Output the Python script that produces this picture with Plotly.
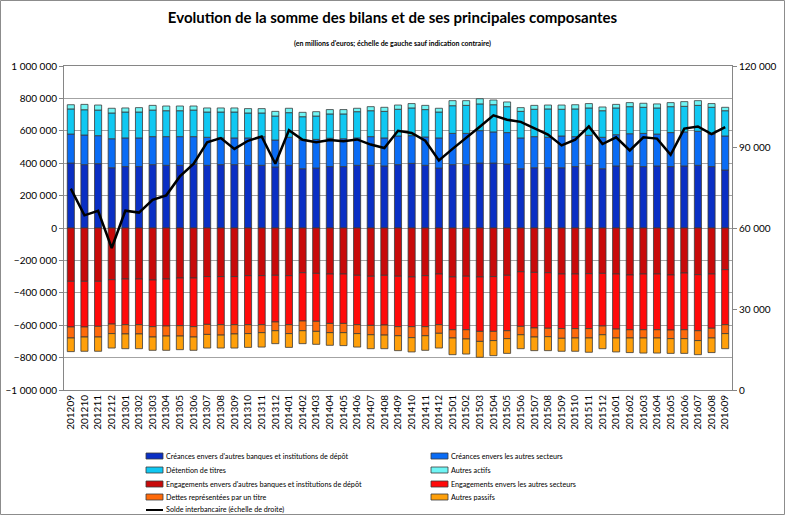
import plotly.graph_objects as go

mois = ["201209", "201210", "201211", "201212", "201301", "201302", "201303", "201304",
        "201305", "201306", "201307", "201308", "201309", "201310", "201311", "201312",
        "201401", "201402", "201403", "201404", "201405", "201406", "201407", "201408",
        "201409", "201410", "201411", "201412", "201501", "201502", "201503", "201504",
        "201505", "201506", "201507", "201508", "201509", "201510", "201511", "201512",
        "201601", "201602", "201603", "201604", "201605", "201606", "201607", "201608",
        "201609"]

creances_banques = [401000, 391000, 397000, 372000, 379000, 379000, 391000, 387000, 387000, 393000,
                    387000, 391000, 391000, 387000, 387000, 377000, 387000, 366000, 370000, 379000,
                    379000, 387000, 387000, 383000, 391000, 399000, 387000, 370000, 391000, 391000,
                    401000, 401000, 395000, 366000, 372000, 372000, 372000, 379000, 387000, 366000,
                    383000, 383000, 379000, 383000, 379000, 383000, 387000, 379000, 358000]
creances_secteurs = [179000, 183000, 173000, 179000, 177000, 177000, 173000, 177000, 177000, 171000,
                     173000, 165000, 165000, 169000, 177000, 166000, 173000, 177000, 177000, 175000,
                     172000, 169000, 177000, 173000, 177000, 171000, 175000, 186000, 193000, 193000,
                     200000, 192000, 194000, 190000, 192000, 188000, 196000, 185000, 185000, 194000,
                     193000, 199000, 205000, 197000, 210000, 210000, 210000, 201000, 210000]
detention_titres = [155000, 156000, 158000, 159000, 160000, 160000, 164000, 160000, 160000, 164000,
                    156000, 160000, 160000, 154000, 146000, 148000, 152000, 144000, 144000, 150000,
                    153000, 162000, 160000, 164000, 165000, 171000, 169000, 160000, 171000, 173000,
                    165000, 168000, 160000, 164000, 169000, 175000, 165000, 171000, 169000, 164000,
                    165000, 167000, 161000, 161000, 160000, 158000, 160000, 165000, 156000]
autres_actifs = [26000, 33000, 31000, 29000, 25000, 27000, 29000, 29000, 29000, 25000,
                 25000, 25000, 25000, 27000, 27000, 29000, 27000, 27000, 27000, 27000,
                 27000, 21000, 25000, 25000, 26000, 27000, 26000, 23000, 31000, 29000,
                 32000, 29000, 29000, 23000, 24000, 24000, 26000, 26000, 27000, 23000,
                 22000, 25000, 25000, 25000, 25000, 29000, 29000, 23000, 21000]
engagements_banques = [-329000, -329000, -329000, -319000, -315000, -315000, -321000, -315000, -309000, -309000,
                       -300000, -300000, -300000, -294000, -294000, -292000, -294000, -276000, -280000, -284000,
                       -284000, -292000, -298000, -292000, -298000, -302000, -294000, -284000, -302000, -298000,
                       -302000, -300000, -292000, -270000, -274000, -276000, -284000, -284000, -282000, -280000,
                       -284000, -290000, -284000, -284000, -290000, -278000, -288000, -284000, -257000]
engagements_secteurs = [-282000, -282000, -278000, -274000, -282000, -282000, -288000, -290000, -294000, -300000,
                        -295000, -297000, -297000, -303000, -303000, -288000, -303000, -298000, -296000, -305000,
                        -305000, -305000, -303000, -307000, -311000, -307000, -315000, -313000, -326000, -330000,
                        -336000, -338000, -342000, -337000, -343000, -343000, -337000, -337000, -339000, -325000,
                        -340000, -338000, -344000, -344000, -340000, -350000, -346000, -335000, -340000]
dettes_titre = [-68000, -62000, -66000, -59000, -57000, -57000, -64000, -62000, -64000, -64000,
                -62000, -64000, -57000, -55000, -49000, -54000, -55000, -60000, -62000, -57000,
                -57000, -55000, -58000, -62000, -56000, -68000, -56000, -53000, -51000, -57000,
                -62000, -57000, -49000, -52000, -56000, -52000, -60000, -58000, -58000, -54000,
                -55000, -51000, -51000, -51000, -53000, -55000, -61000, -60000, -55000]
autres_passifs = [-84000, -88000, -88000, -89000, -91000, -91000, -82000, -88000, -84000, -82000,
                  -84000, -80000, -87000, -85000, -89000, -80000, -85000, -80000, -80000, -78000,
                  -80000, -83000, -86000, -84000, -92000, -88000, -90000, -91000, -103000, -93000,
                  -98000, -93000, -91000, -86000, -84000, -86000, -80000, -82000, -88000, -86000,
                  -86000, -90000, -93000, -93000, -91000, -91000, -87000, -90000, -93000]
solde_interbancaire = [74600, 64700, 66400, 52600, 66400, 65700, 70400, 72100, 79100, 83700,
                       91700, 93300, 89300, 92300, 93900, 83800, 96200, 92700, 91800, 92600,
                       92100, 92800, 90900, 89600, 96000, 95200, 92300, 85000, 89300, 93300,
                       97500, 101700, 100100, 99300, 97000, 94600, 90600, 92700, 97600, 91100,
                       93600, 88700, 93600, 93100, 87100, 96800, 97600, 94800, 97400]

noms = ["Créances envers d'autres banques et institutions de dépôt",
        "Créances envers les autres secteurs",
        "Détention de titres",
        "Autres actifs",
        "Engagements envers d'autres banques et institutions de dépôt",
        "Engagements envers les autres secteurs",
        "Dettes représentées par un titre",
        "Autres passifs"]
nom_ligne = "Solde interbancaire (échelle de droite)"
couleurs = ["#0A2FC4", "#0A6CF5", "#10C8F2", "#6FF5F5",
            "#C80A0A", "#FF0A0A", "#FF6A0A", "#FFA00A"]
series = [creances_banques, creances_secteurs, detention_titres, autres_actifs,
          engagements_banques, engagements_secteurs, dettes_titre, autres_passifs]

fig = go.Figure()
for nom, vals, col in zip(noms, series, couleurs):
    fig.add_trace(go.Bar(x=mois, y=vals, name=nom, showlegend=False,
                         marker=dict(color=col, line=dict(color="#3a3a3a", width=0.8))))
fig.add_trace(go.Scatter(x=mois, y=solde_interbancaire, name=nom_ligne, yaxis="y2",
                         mode="lines", showlegend=False,
                         line=dict(color="black", width=2.5)))

L, R, T, B = 64, 732, 66, 390
W, H = R - L, B - T


def xp(px):
    return (px - L) / W


def yp(py):
    return (B - py) / H


shapes = []
annotations = []
# manual legend (two columns)
rows = [456, 470, 484, 497, 510]
left_items = [(noms[0], couleurs[0]), (noms[2], couleurs[2]), (noms[4], couleurs[4]), (noms[6], couleurs[6])]
right_items = [(noms[1], couleurs[1]), (noms[3], couleurs[3]), (noms[5], couleurs[5]), (noms[7], couleurs[7])]
for items, sx in ((left_items, 146), (right_items, 431)):
    for (nom, col), ry in zip(items, rows):
        shapes.append(dict(type="rect", xref="paper", yref="paper",
                           x0=xp(sx), x1=xp(sx + 17), y0=yp(ry + 3), y1=yp(ry - 3),
                           fillcolor=col, line=dict(color="#3a3a3a", width=0.8)))
        annotations.append(dict(text=nom, xref="paper", yref="paper", x=xp(sx + 18), y=yp(ry),
                                xanchor="left", yanchor="middle", showarrow=False,
                                font=dict(size=7.2, color="black")))
shapes.append(dict(type="line", xref="paper", yref="paper",
                   x0=xp(146), x1=xp(163), y0=yp(rows[4]), y1=yp(rows[4]),
                   line=dict(color="black", width=2)))
annotations.append(dict(text=nom_ligne, xref="paper", yref="paper", x=xp(164), y=yp(rows[4]),
                        xanchor="left", yanchor="middle", showarrow=False,
                        font=dict(size=7.2, color="black")))
# outer border
shapes.append(dict(type="rect", xref="paper", yref="paper",
                   x0=xp(0.5), x1=xp(784.5), y0=yp(514.5), y1=yp(0.5),
                   line=dict(color="#8c8c8c", width=1)))
# subtitle
annotations.append(dict(text="(en millions d'euros; échelle de gauche sauf indication contraire)",
                        xref="paper", yref="paper", x=xp(392), y=yp(44),
                        xanchor="center", yanchor="middle", showarrow=False,
                        font=dict(size=7, color="black", weight="bold")))

fig.update_layout(
    width=785, height=515,
    margin=dict(l=L, r=785 - R, t=T, b=515 - B, autoexpand=False),
    paper_bgcolor="white", plot_bgcolor="white",
    font=dict(family="Lato", size=10, color="black"),
    separators=", ",
    barmode="relative", bargap=0.48,
    title=dict(text="Evolution de la somme des bilans et de ses principales composantes",
               x=0.5, xanchor="center", y=1 - 18 / 515, yanchor="middle",
               font=dict(size=15, weight="bold", color="black")),
    xaxis=dict(type="category", tickangle=-90, tickfont=dict(size=10),
               showline=True, linecolor="#868686", mirror=True, ticks="",
               showgrid=False, automargin=False),
    yaxis=dict(range=[-1000000, 1000000], dtick=200000, tick0=0, tickformat=",d",
               showgrid=True, gridcolor="#A3A3A3", gridwidth=1, zeroline=False,
               showline=True, linecolor="#868686", ticks="outside", ticklen=4,
               tickcolor="#868686", tickfont=dict(size=10), automargin=False),
    yaxis2=dict(range=[0, 120000], dtick=30000, tick0=0, tickformat=",d",
                overlaying="y", side="right", showgrid=False, zeroline=False,
                showline=True, linecolor="#868686", ticks="outside", ticklen=4,
                tickcolor="#868686", tickfont=dict(size=10), automargin=False),
    shapes=shapes,
    annotations=annotations,
)

fig.write_html("out.html", config={"displayModeBar": False},
               post_script="document.body.style.margin='0px';document.body.style.overflow='hidden';")
